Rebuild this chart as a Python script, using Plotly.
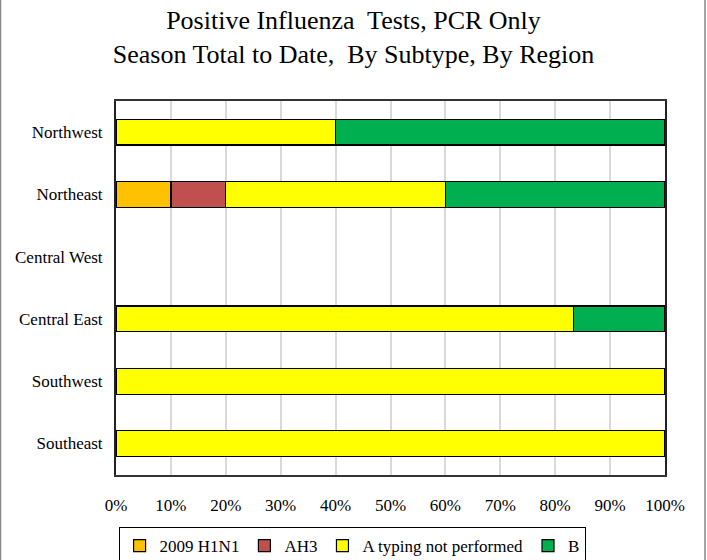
import plotly.graph_objects as go

regions = ["Northwest", "Northeast", "Central West", "Central East", "Southwest", "Southeast"]
h1n1 = [None, 10, None, None, None, None]
ah3 = [None, 10, None, None, None, None]
a_not_typed = [40, 40, None, 83.3, 100, 100]
b_vals = [60, 40, None, 16.7, None, None]

series = [
    ("2009 H1N1", h1n1, "#FFC000"),
    ("AH3", ah3, "#C0504D"),
    ("A typing not performed", a_not_typed, "#FFFF00"),
    ("B", b_vals, "#00B050"),
]

fig = go.Figure()
for name, vals, color in series:
    fig.add_trace(go.Bar(
        y=regions, x=[v / 100 if v is not None else None for v in vals],
        name=name, orientation="h",
        marker=dict(color=color, line=dict(color="#000000", width=1.2)),
    ))

W, H = 707, 560
L, R, T, B = 116, 42, 101, 83
pw = W - L - R

fig.update_layout(
    width=W, height=H,
    margin=dict(l=L, r=R, t=T, b=B),
    barmode="stack", bargap=0.585,
    plot_bgcolor="white", paper_bgcolor="white",
    font=dict(family="Liberation Serif, Times New Roman, serif", size=17, color="#000000"),
    title=dict(
        text="Positive Influenza  Tests, PCR Only<br>Season Total to Date,  By Subtype, By Region",
        x=0.5, xanchor="center", xref="container",
        y=0.948, yanchor="top", yref="container",
        font=dict(size=26, color="#000000"),
    ),
    xaxis=dict(
        range=[0, 1], dtick=0.1, tickformat=".0%",
        showgrid=True, gridcolor="#D9D9D9", gridwidth=1.5,
        showline=True, linecolor="#333333", linewidth=2, mirror=True,
        ticks="", zeroline=False, ticklabelstandoff=14,
        fixedrange=True,
    ),
    yaxis=dict(
        categoryorder="array", categoryarray=regions, autorange="reversed",
        showline=True, linecolor="#222222", linewidth=2, mirror=True,
        ticks="", showgrid=False, ticklabelstandoff=8,
    ),
    legend=dict(
        orientation="h", xref="container", yref="container",
        x=0.498, xanchor="center", y=1 - 527 / H, yanchor="top",
        bordercolor="#000000", borderwidth=1, bgcolor="white",
        font=dict(size=17), traceorder="normal",
        itemwidth=30,
    ),
    shapes=[dict(
        type="rect", xref="paper", yref="paper",
        x0=(0.5 - L) / pw, x1=(705 - L) / pw, y0=-2, y1=2,
        line=dict(color="#888888", width=1.5), fillcolor="rgba(0,0,0,0)", layer="above",
    )],
)

fig.write_html(
    "out.html",
    config={"displayModeBar": False},
    post_script="document.body.style.margin='0';document.body.style.overflow='hidden';",
)
